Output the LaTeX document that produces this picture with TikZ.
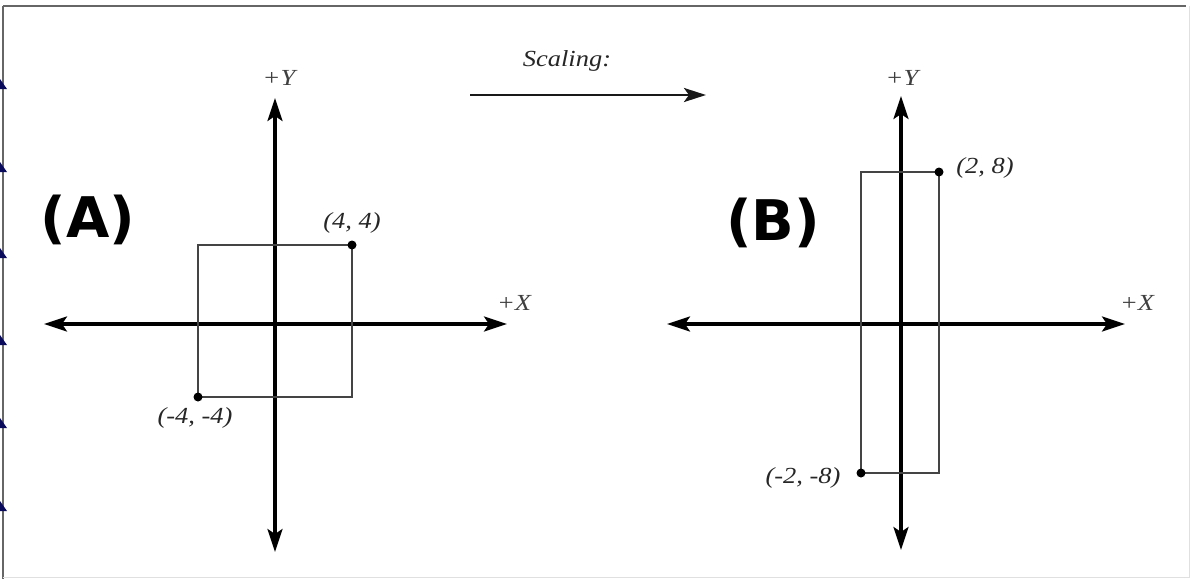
\documentclass[tikz,border=0pt]{standalone}
\usepackage{fontspec}
\setmainfont{Liberation Serif}
\newfontfamily\labfont[FakeStretch=1.15]{Liberation Serif}
\newfontfamily\bigfont{DejaVu Sans}
\usetikzlibrary{arrows.meta}
\definecolor{navy}{HTML}{0A0A5A}
\definecolor{rectgray}{HTML}{444444}
\tikzset{
  axis/.style={line width=3.2pt, black, {Stealth[length=23pt,width=15pt,inset=5pt]}-{Stealth[length=23pt,width=15pt,inset=5pt]}},
  onearrow/.style={line width=2.8pt, black!90, -{Stealth[length=22pt,width=14pt,inset=5pt]}},
  rect/.style={line width=2pt, rectgray},
  lab/.style={font=\labfont\itshape\fontsize{23}{26}\selectfont, text=black!85, inner sep=0pt},
  axlab/.style={font=\labfont\itshape\fontsize{23}{26}\selectfont, text=black!75, inner sep=0pt},
  big/.style={font=\bigfont\bfseries\fontsize{56}{64}\selectfont, inner sep=0pt},
  dot/.style={circle, fill=black, inner sep=0pt, minimum size=9pt},
  mark tri/.style={fill=navy, draw=none}
}
\begin{document}
\begin{tikzpicture}[x=1pt,y=-1pt]
\useasboundingbox (0,0) rectangle (1192,579);
\fill[white] (0,0) rectangle (1192,579);
% frame
\draw[line width=2.5pt, black!60] (3,6) -- (1186,6);
\draw[line width=2.5pt, black!60] (3,6) -- (3,579);
\draw[line width=1pt, black!12] (1189,6) -- (1189,577) -- (3,577);
% edge marks
\foreach \yy in {89,172,258,345,428,511}{
  \fill[mark tri] (0,\yy-10) -- (0,\yy) -- (7,\yy) -- cycle;
}
% ---------- (A) ----------
\coordinate (AxL) at (44,324);
\coordinate (AxR) at (507,324);
\coordinate (AyT) at (275,98);
\coordinate (AyB) at (275,552);
\draw[axis] (AxL) -- (AxR);
\draw[axis] (AyB) -- (AyT);
\coordinate (Asw) at (198,397);
\coordinate (Ane) at (352,245);
\draw[rect] (Asw) rectangle (Ane);
\node[dot] (Adot1) at (Ane) {};
\node[dot] (Adot2) at (Asw) {};
\node[lab] (Alab1) at (352,223) {(4, 4)};
\node[lab] (Alab2) at (195,418) {(-4, -4)};
\node[axlab] (AY) at (279,78) {+Y};
\node[axlab] (AX) at (514,303) {+X};
\node[big] (Atitle) at (88,220) {(A)};
% ---------- scaling arrow ----------
\coordinate (Sa) at (470,95);
\coordinate (Sb) at (706,95);
\draw[onearrow] (Sa) -- (Sb);
\node[lab] (Stext) at (567,61) {Scaling:};
% ---------- (B) ----------
\coordinate (BxL) at (667,324);
\coordinate (BxR) at (1125,324);
\coordinate (ByT) at (901,96);
\coordinate (ByB) at (901,550);
\draw[axis] (BxL) -- (BxR);
\draw[axis] (ByB) -- (ByT);
\coordinate (Bsw) at (861,473);
\coordinate (Bne) at (939,172);
\draw[rect] (Bsw) rectangle (Bne);
\node[dot] (Bdot1) at (Bne) {};
\node[dot] (Bdot2) at (Bsw) {};
\node[lab] (Blab1) at (985,168) {(2, 8)};
\node[lab] (Blab2) at (803,478) {(-2, -8)};
\node[axlab] (BY) at (902,78) {+Y};
\node[axlab] (BX) at (1137,303) {+X};
\node[big] (Btitle) at (773,223) {(B)};
\end{tikzpicture}
\end{document}
